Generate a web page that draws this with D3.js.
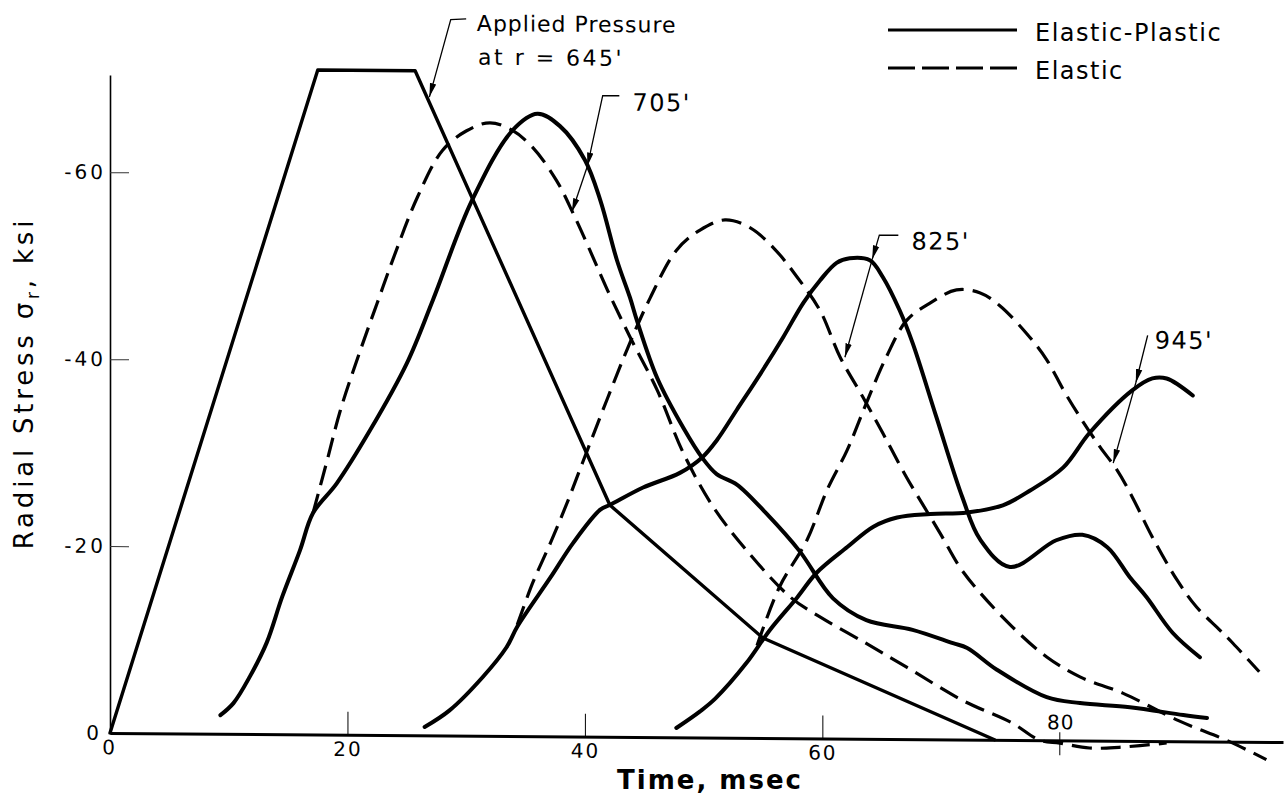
<!DOCTYPE html>
<html>
<head>
<meta charset="utf-8">
<script src="https://cdn.jsdelivr.net/npm/d3@7"></script>
<style>
  body { margin: 0; background: #fff; }
  svg { display: block; font-family: 'DejaVu Sans', 'Liberation Sans', sans-serif; }
</style>
</head>
<body>
<svg id="chart" width="1286" height="802"></svg>
<script>
// Tick values for both axes
const timeTicks = [0, 20, 40, 60];
const timeTickAbove = 80; // in the original the 80 label sits above the axis
const stressTicks = [0, -20, -40, -60];

// Applied pressure at r = 645'
const appliedTime = [0, 17.5, 25.7, 42.1, 55.0, 74.5];
const appliedStress = [0, -71.1, -71.1, -24.8, -10.7, 0];

// r = 705'
const ep705Time = [9.3, 10.4, 11.8, 13.2, 14.5, 16.0, 17.1, 19.1, 21.9, 25.0, 27.2, 30.5, 33.9, 36.0, 37.9, 40.0, 41.3, 42.7, 43.8, 44.4, 46.1, 48.3, 49.9, 51.1, 52.8, 55.3, 58.1, 60.9, 63.7, 67.6, 71.0, 72.2, 74.7, 78.9, 81.7, 85.9, 90.4, 92.4];
const ep705Stress = [-2.0, -3.3, -6.2, -9.8, -14.7, -19.7, -23.7, -26.9, -32.6, -39.8, -46.6, -57.3, -64.8, -66.6, -65.3, -61.7, -57.4, -51.0, -47.0, -44.5, -38.4, -33.1, -29.9, -28.2, -27.1, -24.0, -20.0, -15.0, -12.7, -11.7, -10.3, -9.8, -7.5, -4.6, -4.0, -3.6, -2.8, -2.5];
const el705Time = [17.1, 18.3, 19.4, 21.1, 22.5, 23.8, 25.9, 28.0, 30.0, 32.0, 33.9, 35.6, 37.6, 39.0, 40.4, 41.9, 43.8, 46.1, 48.3, 50.8, 53.6, 57.3, 59.8, 63.7, 67.1, 71.8, 76.0, 78.3, 80.0, 82.5, 85.0, 89.0];
const el705Stress = [-23.7, -29.4, -34.7, -41.2, -46.2, -50.8, -57.6, -62.6, -64.7, -65.6, -64.8, -63.0, -59.5, -56.0, -52.1, -47.8, -42.8, -37.1, -30.4, -24.7, -20.1, -15.1, -13.0, -10.2, -7.7, -4.2, -1.8, 0, 0.3, 0.8, 0.7, 0.2];

// r = 825'
const ep825Time = [26.5, 28.6, 31.4, 33.4, 34.3, 37.1, 39.0, 41.3, 42.1, 44.9, 48.0, 49.9, 51.1, 52.8, 55.0, 56.7, 58.4, 59.8, 61.2, 62.3, 64.0, 65.1, 66.5, 67.6, 69.6, 71.8, 73.3, 75.8, 79.7, 81.9, 84.0, 85.9, 87.3, 89.5, 91.8];
const ep825Stress = [-0.9, -2.7, -6.3, -9.5, -11.7, -17.0, -20.7, -24.3, -24.8, -26.7, -28.3, -30.0, -31.8, -35.1, -39.4, -42.9, -46.6, -49.0, -50.9, -51.4, -51.2, -49.4, -45.9, -42.4, -34.5, -25.9, -21.4, -18.5, -21.4, -22.0, -20.7, -17.5, -15.4, -11.6, -9.0];
const el825Time = [34.3, 35.6, 37.1, 38.5, 39.8, 41.9, 43.8, 45.5, 47.7, 49.7, 51.8, 53.9, 56.0, 57.9, 59.8, 61.5, 63.4, 65.1, 67.1, 69.9, 71.6, 73.3, 76.0, 78.9, 81.7, 85.3, 90.0, 94.3, 97.4];
const el825Stress = [-11.9, -16.4, -20.7, -25.0, -29.3, -36.2, -42.2, -47.0, -52.1, -54.3, -55.4, -54.6, -52.3, -49.3, -45.8, -40.8, -36.6, -32.7, -28.0, -22.1, -18.4, -15.7, -12.1, -8.9, -6.8, -5.1, -2.2, 0, 1.9];

// r = 945'
const ep945Time = [47.7, 49.7, 51.0, 53.6, 55.6, 57.9, 59.5, 62.1, 64.3, 66.3, 69.1, 72.2, 75.2, 77.5, 80.3, 82.5, 86.1, 87.8, 89.0, 91.2];
const ep945Stress = [-1.0, -2.8, -4.2, -8.0, -11.6, -15.1, -17.7, -20.5, -22.7, -23.7, -24.1, -24.3, -25.1, -26.7, -29.2, -32.9, -37.5, -38.8, -38.8, -37.0];
const el945Time = [54.5, 56.4, 58.7, 60.4, 62.1, 63.7, 65.4, 67.1, 69.1, 71.3, 73.3, 74.9, 77.2, 78.9, 80.3, 81.7, 83.4, 84.8, 86.1, 87.8, 89.9, 91.5, 93.5, 94.6, 96.8];
const el945Stress = [-9.9, -16.2, -21.2, -26.6, -30.9, -35.9, -40.9, -44.8, -46.7, -48.1, -47.8, -46.5, -43.5, -40.7, -37.5, -34.6, -31.4, -29.0, -26.1, -21.8, -17.2, -14.4, -11.9, -10.5, -7.5];

// Station labels and where their leader arrows point (time, stress)
const stationLabels = ["705'", "825'", "945'"];
const stationLabelAt = [[44.0, -67.0], [67.5, -52.4], [88.0, -42.0]];
const stationLeaders = [
  [[[42.9, -68.6], [41.5, -68.6], [40.2, -61.0]], [[40.2, -61.0], [38.9, -56.1]]],
  [[[66.4, -53.9], [64.8, -53.9], [64.2, -51.3]], [[64.2, -51.3], [61.9, -40.8]]],
  [[[87.4, -43.4], [86.4, -38.3]], [[86.4, -38.3], [84.5, -29.7]]],
];
const appliedLabel = ['Applied Pressure', "at r = 645'"];
const appliedLabelAt = [[30.9, -75.4], [31.0, -71.8]];
const appliedLeader = [[30.0, -76.7], [28.7, -76.6], [26.9, -68.3]];

const legendLabels = ['Elastic-Plastic', 'Elastic'];

const zip = (ts, ss) => ts.map((t, i) => [t, ss[i]]);

const series = [
  { values: zip(el705Time, el705Stress), dashed: true },
  { values: zip(el825Time, el825Stress), dashed: true },
  { values: zip(el945Time, el945Stress), dashed: true },
  { values: zip(appliedTime, appliedStress), dashed: false, straight: true },
  { values: zip(ep705Time, ep705Stress), dashed: false },
  { values: zip(ep825Time, ep825Stress), dashed: false },
  { values: zip(ep945Time, ep945Stress), dashed: false },
];

const svg = d3.select('#chart');

// Scales
const x = d3.scaleLinear().domain([0, 98.8]).range([110, 1283]);
const y = d3.scaleLinear().domain([0, -70.4]).range([733, 75]);

// Arrowhead for the leader lines
svg.append('defs').append('marker')
  .attr('id', 'arrow')
  .attr('viewBox', '0 -4 14 8')
  .attr('refX', 14)
  .attr('refY', 0)
  .attr('markerWidth', 14)
  .attr('markerHeight', 8)
  .attr('markerUnits', 'userSpaceOnUse')
  .attr('orient', 'auto')
  .append('path')
  .attr('d', 'M0,-3.2L14,0L0,3.2Z')
  .attr('fill', '#000');

// The scanned figure sags a little to the right, so the plot is skewed a touch
const plot = svg.append('g')
  .attr('transform', `translate(${x(0)},${y(0)}) skewY(0.44) translate(${-x(0)},${-y(0)})`);

// X axis, ticks pointing up into the plot
const xAxis = plot.append('g')
  .attr('transform', `translate(0,${y(0)})`)
  .call(d3.axisBottom(x)
    .tickValues(timeTicks)
    .tickSize(-23)
    .tickSizeOuter(0)
    .tickPadding(7)
    .tickFormat(d3.format('d')))
  .attr('font-family', null)
  .attr('font-size', 20);
xAxis.select('.domain').attr('stroke-width', 3);
xAxis.selectAll('.tick line').attr('stroke-width', 1);
xAxis.selectAll('.tick text').style('letter-spacing', '2px');
xAxis.selectAll('.tick').filter((d) => d === 0).select('line').remove();
xAxis.selectAll('.tick').filter((d) => d === 0).select('text').attr('x', -1);

// 80 is labelled above the axis with a tick crossing it
plot.append('line')
  .attr('x1', x(timeTickAbove)).attr('x2', x(timeTickAbove))
  .attr('y1', y(0) - 8).attr('y2', y(0) + 15)
  .attr('stroke', '#000').attr('stroke-width', 1);
plot.append('text')
  .attr('x', x(timeTickAbove) + 1)
  .attr('y', y(0) - 11)
  .attr('text-anchor', 'middle')
  .attr('font-size', 20)
  .style('letter-spacing', '1px')
  .text(timeTickAbove);

// Y axis, ticks pointing right
const yAxis = plot.append('g')
  .attr('transform', `translate(${x(0)},0)`)
  .call(d3.axisLeft(y)
    .tickValues(stressTicks)
    .tickSize(-19)
    .tickSizeOuter(0)
    .tickPadding(4)
    .tickFormat((d) => String(d)))
  .attr('font-family', null)
  .attr('font-size', 20);
yAxis.select('.domain').attr('stroke-width', 1.6);
yAxis.selectAll('.tick line').attr('stroke-width', 1).attr('stroke', '#333');
yAxis.selectAll('.tick text').style('letter-spacing', '3px');
yAxis.selectAll('.tick').filter((d) => d === 0).select('line').remove();
yAxis.selectAll('.tick').filter((d) => d === 0).select('text').attr('x', -8);

// Curves
const smooth = d3.line()
  .x((d) => x(d[0]))
  .y((d) => y(d[1]))
  .curve(d3.curveCatmullRom.alpha(0.5));
const straight = d3.line()
  .x((d) => x(d[0]))
  .y((d) => y(d[1]));

plot.selectAll('.curve')
  .data(series)
  .enter().append('path')
  .attr('class', 'curve')
  .attr('d', (d) => (d.straight ? straight(d.values) : smooth(d.values)))
  .attr('fill', 'none')
  .attr('stroke', '#000')
  .attr('stroke-width', (d) => (d.dashed ? 3.2 : (d.straight ? 3.4 : 4)))
  .attr('stroke-dasharray', (d) => (d.dashed ? '20,9' : null))
  .attr('stroke-linecap', (d) => (d.dashed ? 'butt' : 'round'))
  .attr('stroke-linejoin', 'round');

// Leader lines with arrows
const leader = d3.line().x((d) => x(d[0])).y((d) => y(d[1]));
const leaderSegments = [appliedLeader].concat(...stationLeaders);
plot.selectAll('.leader')
  .data(leaderSegments)
  .enter().append('path')
  .attr('class', 'leader')
  .attr('d', (d) => leader(d))
  .attr('fill', 'none')
  .attr('stroke', '#000')
  .attr('stroke-width', 1.3)
  .attr('marker-end', 'url(#arrow)');

// Applied pressure label
plot.selectAll('.applied-label')
  .data(appliedLabel)
  .enter().append('text')
  .attr('class', 'applied-label')
  .attr('x', (d, i) => x(appliedLabelAt[i][0]))
  .attr('y', (d, i) => y(appliedLabelAt[i][1]))
  .attr('font-size', 22)
  .style('letter-spacing', (d, i) => (i === 0 ? '1px' : '2.5px'))
  .text((d) => d);

// Station labels
plot.selectAll('.station-label')
  .data(stationLabels)
  .enter().append('text')
  .attr('class', 'station-label')
  .attr('x', (d, i) => x(stationLabelAt[i][0]))
  .attr('y', (d, i) => y(stationLabelAt[i][1]))
  .attr('font-size', 24)
  .style('letter-spacing', '1.5px')
  .text((d) => d);

// Legend
const legend = svg.append('g').attr('class', 'legend');
legendLabels.forEach((label, i) => {
  const ly = 30 + i * 38;
  legend.append('line')
    .attr('x1', 888).attr('x2', 1017)
    .attr('y1', ly).attr('y2', ly)
    .attr('stroke', '#000')
    .attr('stroke-width', 3)
    .attr('stroke-dasharray', i === 1 ? '27,7' : null);
  legend.append('text')
    .attr('x', 1035)
    .attr('y', ly + 11)
    .attr('font-size', 24)
    .style('letter-spacing', '1.5px')
    .text(label);
});

// Axis titles
svg.append('text')
  .attr('x', 710)
  .attr('y', 789)
  .attr('text-anchor', 'middle')
  .attr('font-size', 26)
  .attr('font-weight', 'bold')
  .style('letter-spacing', '2px')
  .text('Time, msec');

const yTitle = svg.append('text')
  .attr('transform', 'translate(33,383) rotate(-90)')
  .attr('text-anchor', 'middle')
  .attr('font-size', 26)
  .style('letter-spacing', '3.8px');
yTitle.append('tspan').text('Radial Stress σ');
yTitle.append('tspan').attr('font-size', 17).attr('dy', 6).text('r');
yTitle.append('tspan').attr('dy', -6).text(', ksi');
</script>
</body>
</html>
